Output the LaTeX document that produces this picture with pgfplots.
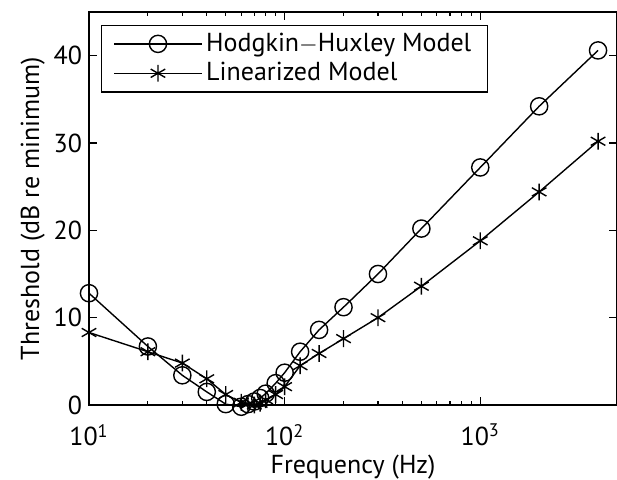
\documentclass[border=0pt]{standalone}
\usepackage{pgfplots}
\pgfplotsset{compat=1.18}
\usepackage{fontspec}
\setmainfont{PT Sans}
\begin{document}
\begin{tikzpicture}
\begin{axis}[
  scale only axis,
  width=264pt, height=196.5pt,
  xmode=log, xmin=10, xmax=5000,
  ymin=0, ymax=45,
  ytick={0,10,20,30,40},
  xtick={10,100,1000},
  xticklabels={10\textsuperscript{1},10\textsuperscript{2},10\textsuperscript{3}},
  tick align=inside,
  major tick length=4pt, minor tick length=2.2pt,
  /pgf/number format/assume math mode=true,
  ticklabel style={font=\fontsize{13}{15}\selectfont},
  label style={font=\fontsize{13}{15}\selectfont},
  xticklabel style={yshift=-6pt},
  xlabel={Frequency (Hz)},
  ylabel={Threshold (dB re minimum)},
  xlabel style={yshift=2.5pt},
  ylabel shift=-2.5pt,
  axis line style={line width=0.9pt},
  every tick/.style={black, line width=0.6pt},
  clip=false,
  legend style={at={(0.023,0.968)}, anchor=north west, font=\fontsize{13}{15}\selectfont,
    draw=black, line width=0.6pt, inner xsep=6pt, inner ysep=2pt, row sep=0pt},
  legend cell align=left,
  legend image code/.code={
    \draw[#1] (0cm,0cm) -- (1.53cm,0cm);
    \draw[#1, only marks] plot coordinates {(0.765cm,0cm)};
  },
]
\addplot[black, line width=0.7pt, mark=o, mark size=4.3pt, mark options={fill=white, line width=0.7pt}]
coordinates {
(10,12.8) (20,6.7) (30,3.4) (40,1.5) (50,0.1) (60,-0.2) (65,0.1) (70,0.4) (75,0.8) (80,1.3) (90,2.5) (100,3.7) (120,6.1) (150,8.6) (200,11.2) (300,15.0) (500,20.2) (1000,27.2) (2000,34.2) (4000,40.6)
};
\addlegendentry{Hodgkin$-$Huxley Model}
\addplot[black, line width=0.7pt, mark=asterisk, mark size=4.2pt, mark options={line width=0.7pt}]
coordinates {
(10,8.3) (20,6.1) (30,4.8) (40,3.0) (50,1.2) (60,0.3) (65,0.1) (70,0.0) (75,0.2) (80,0.6) (90,1.2) (100,2.1) (120,4.5) (150,5.9) (200,7.6) (300,10.0) (500,13.6) (1000,18.8) (2000,24.4) (4000,30.2)
};
\addlegendentry{Linearized Model}
\end{axis}
\pgfresetboundingbox
\path ([shift={(-44.5pt,-37pt)}]current axis.south west) rectangle ([shift={(0pt,6pt)}]current axis.north east);
\end{tikzpicture}
\end{document}
